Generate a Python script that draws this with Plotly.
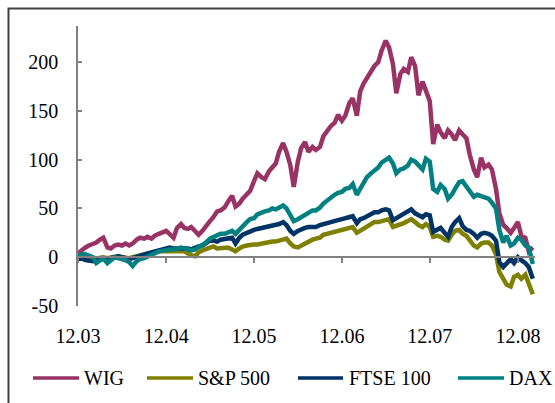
import plotly.graph_objects as go
import pandas as pd

# Half-monthly observation grid (1st and 15th), Dec 2003 - Feb 2009
dates = pd.date_range("2003-12-01", periods=125, freq="SMS")

wig = [4, 7, 10, 12, 13, 15, 18, 20, 10, 9,
       12, 13, 12, 14, 12, 14, 18, 20, 19, 21,
       19, 22, 24, 26, 27, 24, 20, 30, 34, 30,
       29, 31, 26, 23, 27, 32, 37, 41, 47, 48,
       51, 57, 63, 52, 55, 60, 64, 68, 78, 86,
       82, 80, 88, 93, 96, 108, 117, 108, 94, 72,
       98, 112, 118, 108, 113, 110, 113, 124, 130, 134,
       138, 146, 140, 145, 158, 163, 145, 170, 178, 184,
       190, 196, 200, 212, 222, 215, 198, 168, 188, 193,
       190, 205, 196, 166, 180, 172, 160, 116, 136, 128,
       122, 130, 126, 120, 130, 126, 122, 105, 90, 82,
       102, 92, 95, 90, 70, 45, 33, 30, 25, 30,
       36, 22, 20, 6, 10]

sp500 = [-1, -1, 0, -1, -2, -1, -1, 0, -1, 0,
         0, 1, 0, -1, -1, 0, 1, 2, 3, 4,
         5, 6, 6, 6, 6, 6, 7, 7, 7, 6,
         4, 2, 1, 5, 7, 8, 10, 11, 9, 9,
         10, 10, 8, 6, 9, 11, 12, 13, 13, 13,
         14, 15, 15, 16, 16, 17, 18, 19, 14, 11,
         10, 12, 14, 16, 18, 19, 20, 23, 24, 25,
         26, 27, 27, 28, 29, 31, 25, 27, 29, 32,
         34, 36, 36, 37, 38, 39, 31, 32, 33, 35,
         37, 39, 36, 33, 31, 34, 31, 21, 22, 21,
         18, 17, 23, 27, 28, 24, 22, 18, 12, 10,
         14, 15, 15, 12, 3, -15, -22, -28, -30, -20,
         -18, -22, -18, -27, -38]

ftse100 = [-2, -1, -3, -3, -4, -2, -1, -2, -3, -1,
           0, 1, 0, -1, -2, -1, 0, 2, 3, 4,
           5, 6, 7, 8, 9, 10, 9, 9, 10, 10,
           9, 8, 9, 11, 12, 14, 17, 17, 16, 18,
           19, 19, 20, 14, 20, 23, 25, 27, 28, 29,
           30, 31, 31, 32, 33, 34, 36, 33, 27, 24,
           27, 29, 30, 31, 31, 31, 33, 34, 36, 36,
           37, 38, 39, 40, 41, 42, 35, 39, 40, 42,
           44, 46, 46, 48, 49, 48, 38, 40, 42, 44,
           46, 49, 45, 43, 41, 44, 43, 26, 28, 30,
           25, 21, 31, 36, 40, 32, 28, 27, 24, 20,
           24, 25, 24, 22, 17, -5, -10, -7, -2, -6,
           0, -3, -6, -10, -22]

dax = [1, 3, 3, 2, 0, -6, -3, -1, -6, -3,
       0, -1, -2, -3, -5, -9, -4, -2, -1, 1,
       3, 4, 6, 7, 8, 8, 8, 9, 10, 9,
       8, 7, 8, 10, 13, 15, 19, 21, 23, 24,
       24, 25, 27, 24, 28, 33, 36, 39, 40, 44,
       45, 47, 48, 50, 49, 51, 53, 50, 42, 37,
       39, 41, 44, 46, 48, 48, 51, 55, 58, 62,
       64, 66, 67, 70, 71, 75, 64, 70, 75, 82,
       86, 89, 92, 97, 100, 102, 96, 86, 90, 91,
       94, 100, 98, 95, 90, 101, 98, 70, 67, 74,
       70, 60, 64, 70, 77, 78, 72, 68, 62, 64,
       63, 62, 60, 56, 50, 28, 15, 22, 12, 14,
       20, 18, 12, 10, -7]

series_names = ["WIG", "S&amp;P 500", "FTSE 100", "DAX"]
series_colors = ["#993366", "#808000", "#003366", "#008080"]

tick_dates = ["2003-12-01", "2004-12-01", "2005-12-01",
              "2006-12-01", "2007-12-01", "2008-12-01"]
tick_labels = ["12.03", "12.04", "12.05", "12.06", "12.07", "12.08"]
y_ticks = [-50, 0, 50, 100, 150, 200]
y_tick_labels = ["-50", "0", "50", "100", "150", "200"]

# ---- layout geometry (pixels) ----
W, H = 555, 403
L, R, T, B = 78, 20, 26, 97
pw, ph = W - L - R, H - T - B
Y_MIN, Y_MAX = -50, 237


def px_x(x):
    return (x - L) / pw


def px_y(y):
    return (H - B - y) / ph


FONT = "'Liberation Serif', 'Times New Roman', Times, serif"

fig = go.Figure()
for vals, name, col in zip([wig, sp500, ftse100, dax], series_names, series_colors):
    fig.add_trace(go.Scatter(x=dates, y=vals, mode="lines", name=name,
                             line=dict(color=col, width=4.5),
                             showlegend=False))

# helper trace for the zero-level category axis
fig.add_trace(go.Scatter(x=[dates[0], dates[-1]], y=[None, None], xaxis="x2",
                         showlegend=False, hoverinfo="skip"))

shapes = [
    # outer chart frame (cropped at right/bottom)
    dict(type="rect", xref="paper", yref="paper",
         x0=px_x(8.5), x1=px_x(W + 30), y0=px_y(8.5), y1=px_y(H + 30),
         line=dict(color="#404040", width=2), fillcolor="rgba(0,0,0,0)", layer="below"),
]
annotations = []
leg = [(33, 79, 84), (147, 193, 198), (298, 343, 349), (458, 504, 509)]
ly = 378
for (x0, x1, tx), name, col in zip(leg, series_names, series_colors):
    shapes.append(dict(type="line", xref="paper", yref="paper",
                       x0=px_x(x0), x1=px_x(x1), y0=px_y(ly), y1=px_y(ly),
                       line=dict(color=col, width=3.5)))
    annotations.append(dict(text=name, xref="paper", yref="paper",
                            x=px_x(tx - 2), y=px_y(ly), xanchor="left", yanchor="middle",
                            showarrow=False, font=dict(family=FONT, size=20, color="black")))

fig.update_layout(
    width=W, height=H,
    margin=dict(l=L, r=R, t=T, b=B, pad=0, autoexpand=False),
    paper_bgcolor="white", plot_bgcolor="white",
    font=dict(family=FONT, size=20, color="black"),
    showlegend=False,
    shapes=shapes, annotations=annotations,
    xaxis=dict(type="date", range=["2003-12-01", "2009-02-10"],
               tickmode="array", tickvals=tick_dates, ticktext=tick_labels,
               showline=False, ticks="", showgrid=False, zeroline=False,
               automargin=False,
               ticklabelstandoff=16, tickfont=dict(family=FONT, size=20)),
    xaxis2=dict(type="date", overlaying="x", matches="x", anchor="free",
                position=(0 - Y_MIN) / (Y_MAX - Y_MIN), automargin=False,
                tickmode="array", tickvals=tick_dates, showticklabels=False,
                showline=True, linecolor="#808080", linewidth=1.5,
                ticks="outside", ticklen=5, tickwidth=1.5, tickcolor="#808080",
                showgrid=False, zeroline=False),
    yaxis=dict(range=[Y_MIN, Y_MAX], tickmode="array", tickvals=y_ticks,
               ticktext=y_tick_labels,
               showline=True, linecolor="#808080", linewidth=1.5,
               ticks="inside", ticklen=4, tickwidth=1.5, tickcolor="#808080",
               showgrid=False, zeroline=False, ticklabelstandoff=14,
               automargin=False,
               tickfont=dict(family=FONT, size=20)),
)

fig.write_html("out.html", config={"displayModeBar": False},
               post_script="document.body.style.margin='0px';document.body.style.padding='0px';")
